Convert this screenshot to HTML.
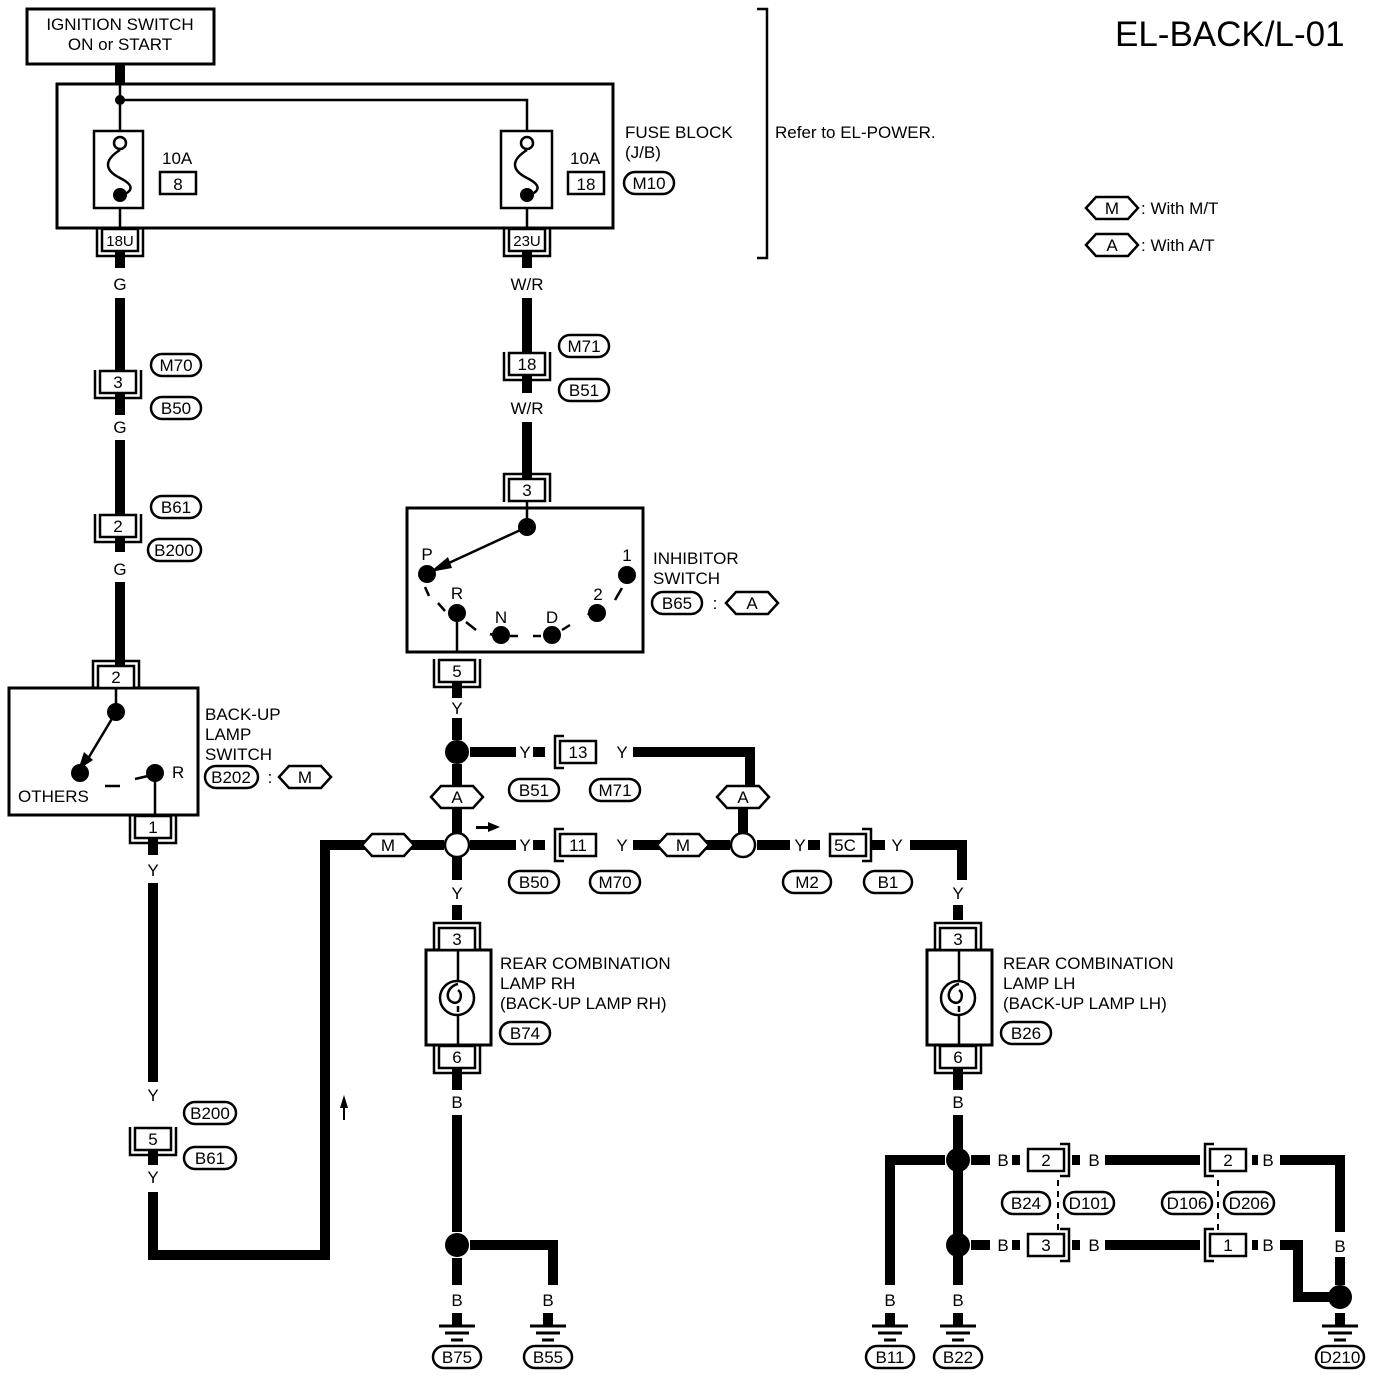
<!DOCTYPE html>
<html><head><meta charset="utf-8"><style>
html,body{margin:0;padding:0;background:#fff}
svg{display:block}
text{font-family:"Liberation Sans",sans-serif;font-size:17px;fill:#000}
.c{text-anchor:middle}
</style></head><body>
<svg width="1376" height="1378" viewBox="0 0 1376 1378" xmlns="http://www.w3.org/2000/svg">
<defs>
<g id="cu"><rect x="-18" y="-11" width="36" height="22" fill="#fff" stroke="#000" stroke-width="2.5"/><path d="M-23,-12 V16 H23 V-12" fill="none" stroke="#000" stroke-width="2.5"/></g>
<g id="cn"><rect x="-18" y="-11" width="36" height="22" fill="#fff" stroke="#000" stroke-width="2.5"/><path d="M-23,12 V-16 H23 V12" fill="none" stroke="#000" stroke-width="2.5"/></g>
<g id="ch"><rect x="-18" y="-11" width="36" height="22" fill="#fff" stroke="#000" stroke-width="2.5"/><path d="M-14,-16 H-23 V16 H-14" fill="none" stroke="#000" stroke-width="2.5"/></g>
<g id="chr"><rect x="-18" y="-11" width="36" height="22" fill="#fff" stroke="#000" stroke-width="2.5"/><path d="M14,-16 H23 V16 H14" fill="none" stroke="#000" stroke-width="2.5"/></g>
<g id="gnd"><path d="M0,-12 V0" stroke="#000" stroke-width="10"/><path d="M-18,1 H18 M-12,8 H12 M-6,15 H6" stroke="#000" stroke-width="3"/></g>
<g id="dia"><path d="M-26,0 L-16,-11 H16 L26,0 L16,11 H-16 Z" fill="#fff" stroke="#000" stroke-width="2.5"/></g>
</defs>
<g fill="none" stroke="#000">
<rect x="27" y="9" width="187" height="55" stroke-width="3"/>
<path d="M120,64 V84" stroke-width="10"/>
<rect x="57" y="84" width="556" height="144" stroke-width="3"/>
<path d="M120,84 V130 M120,100 H527 V130 M120,208 V228 M527,208 V228" stroke-width="2.5"/>
<rect x="94" y="131" width="49" height="77" stroke-width="2.5"/>
<rect x="501" y="131" width="51" height="77" stroke-width="2.5"/>
<path d="M120,150 C104,160 104,170 120,178 C136,186 132,192 120,196" stroke-width="2.5"/>
<path d="M527,150 C511,160 511,170 527,178 C543,186 539,192 527,196" stroke-width="2.5"/>
<circle cx="120" cy="143" r="6" fill="#fff" stroke-width="2.5"/>
<circle cx="527" cy="143" r="6" fill="#fff" stroke-width="2.5"/>
<rect x="160" y="172" width="36" height="22" stroke-width="2.5"/>
<rect x="568" y="172" width="36" height="22" stroke-width="2.5"/>
<path d="M757,9 H767 V258 H757" stroke-width="2.5"/>
<path d="M120,250 V268 M120,298 V375 M120,392 V415 M120,440 V518 M120,536 V552 M120,582 V670" stroke-width="10"/>
<path d="M527,250 V268 M527,298 V360 M527,376 V393 M527,422 V490" stroke-width="10"/>
<rect x="9" y="688" width="189" height="127" stroke-width="3"/>
<path d="M116,688 V712 M155,773 V815" stroke-width="2.5"/>
<path d="M116,712 L86,762" stroke-width="2.5"/>
<path d="M105,786 L120,786 M135,779 L148,776" stroke-width="2.5"/>
<rect x="407" y="508" width="236" height="144" stroke-width="3"/>
<path d="M527,500 V527 M457,613 V652" stroke-width="2.5"/>
<path d="M527,527 L438,568" stroke-width="2.5"/>
<path d="M425,587 L429,596 M438,603 L445,611 M466,622 L476,630 M490,634 L497,636 M510,636 L518,636 M533,636 L541,636 M562,630 L570,625 M588,615 L593,608 M615,600 L622,588" stroke-width="2.5"/>
<path d="M153,838 V855 M153,883 V1082 M153,1145 V1165 M153,1192 V1255 H325 V845 H368 M408,845 H444" stroke-width="10"/>
<path d="M457,682 V698 M457,718 V740 M457,764 V787 M457,808 V833 M457,857 V880 M457,905 V920" stroke-width="10"/>
<path d="M470,752 H516 M533,752 H545 M633,752 H750 V787 M743,808 V833" stroke-width="10"/>
<path d="M470,845 H516 M533,845 H545 M633,845 H660 M706,845 H730 M757,845 H790 M808,845 H820 M870,845 H885 M910,845 H962 V880 M958,905 V920" stroke-width="10"/>
<rect x="426" y="950" width="65" height="95" fill="#fff" stroke-width="3"/>
<rect x="927" y="950" width="65" height="95" fill="#fff" stroke-width="3"/>
<path d="M458,950 V1045 M959,950 V1045" stroke-width="2.5"/>
<circle cx="457" cy="998" r="17" stroke-width="2.5" fill="#fff"/>
<circle cx="958" cy="998" r="17" stroke-width="2.5" fill="#fff"/>
<path d="M458,984 C448,986 444,998 452,1002 C460,1006 464,994 458,990 M458,1006 V1012" stroke-width="2.5"/>
<path d="M959,984 C949,986 945,998 953,1002 C961,1006 965,994 959,990 M959,1006 V1012" stroke-width="2.5"/>
<path d="M457,1068 V1090 M457,1115 V1232 M457,1258 V1285 M470,1245 H553 V1285" stroke-width="10"/>
<path d="M958,1068 V1090 M958,1115 V1285 M945,1160 H890 V1285" stroke-width="10"/>
<path d="M971,1160 H990 M1012,1160 H1020 M1072,1160 H1080 M1105,1160 H1200 M1252,1160 H1258 M1280,1160 H1340 V1232 M1340,1257 V1285" stroke-width="10"/>
<path d="M971,1245 H990 M1012,1245 H1020 M1072,1245 H1080 M1105,1245 H1200 M1252,1245 H1258 M1280,1245 H1298 V1297 H1330" stroke-width="10"/>
<path d="M1058,1180 V1230 M1218,1180 V1230" stroke-width="2" stroke-dasharray="6,5"/>
</g>
<g fill="#000">
<circle cx="120" cy="100" r="5"/><circle cx="120" cy="195" r="7"/><circle cx="527" cy="195" r="7"/>
<circle cx="116" cy="712" r="9"/><circle cx="80" cy="773" r="9"/><circle cx="155" cy="773" r="9"/>
<path d="M78,770 L84,752 L93,760 Z"/>
<circle cx="527" cy="527" r="9"/><circle cx="427" cy="574" r="9"/><circle cx="457" cy="613" r="9"/><circle cx="501" cy="635" r="9"/><circle cx="552" cy="635" r="9"/><circle cx="597" cy="613" r="9"/><circle cx="627" cy="575" r="9"/>
<path d="M430,572 L448,557 L452,568 Z"/>
<circle cx="457" cy="752" r="12"/><circle cx="457" cy="1245" r="12"/><circle cx="958" cy="1160" r="12"/><circle cx="958" cy="1245" r="12"/><circle cx="1340" cy="1297" r="12"/>
<path d="M476,826 H488 V822 L500,827 L488,832 V829 H476 Z"/>
<path d="M343,1120 V1108 H340 L344,1095 L348,1108 H345 V1120 Z"/>
</g>
<g fill="#fff" stroke="#000" stroke-width="2.5">
<circle cx="457" cy="845" r="12"/><circle cx="743" cy="845" r="12"/>
</g>
<use href="#cu" x="120" y="240"/><use href="#cu" x="527" y="240"/>
<use href="#cu" x="118" y="382"/><use href="#cu" x="527" y="364"/>
<use href="#cu" x="118" y="526"/>
<use href="#cn" x="116" y="677"/><use href="#cn" x="527" y="490"/>
<use href="#cu" x="457" y="671"/><use href="#cu" x="153" y="827"/>
<use href="#cu" x="153" y="1139"/>
<use href="#ch" x="578" y="752"/><use href="#ch" x="578" y="845"/><use href="#chr" x="848" y="845"/>
<use href="#cn" x="457" y="939"/><use href="#cu" x="457" y="1057"/>
<use href="#cn" x="958" y="939"/><use href="#cu" x="958" y="1057"/>
<use href="#chr" x="1046" y="1160"/><use href="#chr" x="1046" y="1245"/>
<use href="#ch" x="1228" y="1160"/><use href="#ch" x="1228" y="1245"/>
<use href="#gnd" x="457" y="1325"/><use href="#gnd" x="548" y="1325"/><use href="#gnd" x="890" y="1325"/><use href="#gnd" x="958" y="1325"/><use href="#gnd" x="1340" y="1325"/>
<use href="#dia" x="1112" y="208"/><use href="#dia" x="1112" y="245"/><use href="#dia" x="305" y="777"/><use href="#dia" x="752" y="603"/>
<use href="#dia" x="457" y="797"/><use href="#dia" x="743" y="797"/><use href="#dia" x="388" y="845"/><use href="#dia" x="683" y="845"/>
<g fill="#fff" stroke="#000" stroke-width="2.5">
<rect x="624" y="172" width="50" height="22" rx="11"/>
<rect x="151" y="354" width="50" height="22" rx="11"/><rect x="151" y="397" width="50" height="22" rx="11"/>
<rect x="151" y="496" width="50" height="22" rx="11"/><rect x="148" y="539" width="53" height="22" rx="11"/>
<rect x="559" y="335" width="50" height="22" rx="11"/><rect x="559" y="379" width="50" height="22" rx="11"/>
<rect x="652" y="592" width="50" height="22" rx="11"/><rect x="205" y="766" width="53" height="22" rx="11"/>
<rect x="509" y="779" width="50" height="22" rx="11"/><rect x="590" y="779" width="50" height="22" rx="11"/>
<rect x="509" y="871" width="50" height="22" rx="11"/><rect x="590" y="871" width="50" height="22" rx="11"/>
<rect x="783" y="871" width="48" height="22" rx="11"/><rect x="864" y="871" width="48" height="22" rx="11"/>
<rect x="500" y="1022" width="50" height="22" rx="11"/><rect x="1001" y="1022" width="50" height="22" rx="11"/>
<rect x="184" y="1102" width="52" height="22" rx="11"/><rect x="184" y="1147" width="52" height="22" rx="11"/>
<rect x="1002" y="1192" width="48" height="22" rx="11"/><rect x="1064" y="1192" width="50" height="22" rx="11"/>
<rect x="1162" y="1192" width="50" height="22" rx="11"/><rect x="1224" y="1192" width="50" height="22" rx="11"/>
<rect x="433" y="1346" width="48" height="22" rx="11"/><rect x="524" y="1346" width="48" height="22" rx="11"/>
<rect x="866" y="1346" width="48" height="22" rx="11"/><rect x="934" y="1346" width="48" height="22" rx="11"/><rect x="1316" y="1346" width="48" height="22" rx="11"/>
</g>
<g>
<text x="120" y="30" class="c">IGNITION SWITCH</text><text x="120" y="50" class="c">ON or START</text>
<text x="1115" y="46" style="font-size:35px">EL-BACK/L-01</text>
<text x="625" y="138">FUSE BLOCK</text><text x="625" y="158">(J/B)</text>
<text x="775" y="138">Refer to EL-POWER.</text>
<text x="1141" y="214">: With M/T</text><text x="1141" y="251">: With A/T</text>
<text x="1112" y="214" class="c">M</text><text x="1112" y="251" class="c">A</text>
<text x="162" y="164">10A</text><text x="178" y="190" class="c">8</text>
<text x="570" y="164">10A</text><text x="586" y="190" class="c">18</text>
<text x="649" y="189" class="c">M10</text>
<text x="120" y="246" class="c" style="font-size:15px">18U</text><text x="527" y="246" class="c" style="font-size:15px">23U</text>
<text x="120" y="290" class="c">G</text><text x="527" y="290" class="c">W/R</text>
<text x="118" y="388" class="c">3</text><text x="176" y="371" class="c">M70</text><text x="176" y="414" class="c">B50</text>
<text x="120" y="433" class="c">G</text>
<text x="527" y="370" class="c">18</text><text x="584" y="352" class="c">M71</text><text x="584" y="396" class="c">B51</text>
<text x="527" y="414" class="c">W/R</text>
<text x="118" y="532" class="c">2</text><text x="176" y="513" class="c">B61</text><text x="174" y="556" class="c">B200</text>
<text x="120" y="575" class="c">G</text>
<text x="116" y="683" class="c">2</text>
<text x="205" y="720">BACK-UP</text><text x="205" y="740">LAMP</text><text x="205" y="760">SWITCH</text>
<text x="231" y="783" class="c">B202</text><text x="270" y="783" class="c">:</text><text x="305" y="783" class="c">M</text>
<text x="18" y="802">OTHERS</text><text x="172" y="778">R</text>
<text x="153" y="833" class="c">1</text><text x="153" y="876" class="c">Y</text>
<text x="527" y="496" class="c">3</text>
<text x="427" y="560" class="c">P</text><text x="457" y="599" class="c">R</text><text x="501" y="623" class="c">N</text><text x="552" y="623" class="c">D</text><text x="598" y="600" class="c">2</text><text x="627" y="561" class="c">1</text>
<text x="653" y="564">INHIBITOR</text><text x="653" y="584">SWITCH</text>
<text x="677" y="609" class="c">B65</text><text x="715" y="609" class="c">:</text><text x="752" y="609" class="c">A</text>
<text x="457" y="677" class="c">5</text><text x="457" y="714" class="c">Y</text>
<text x="525" y="758" class="c">Y</text><text x="578" y="758" class="c">13</text><text x="622" y="758" class="c">Y</text>
<text x="534" y="796" class="c">B51</text><text x="615" y="796" class="c">M71</text>
<text x="457" y="803" class="c">A</text><text x="743" y="803" class="c">A</text><text x="388" y="851" class="c">M</text><text x="683" y="851" class="c">M</text>
<text x="525" y="851" class="c">Y</text><text x="578" y="851" class="c">11</text><text x="622" y="851" class="c">Y</text>
<text x="800" y="851" class="c">Y</text><text x="845" y="851" class="c">5C</text><text x="897" y="851" class="c">Y</text>
<text x="534" y="888" class="c">B50</text><text x="615" y="888" class="c">M70</text><text x="807" y="888" class="c">M2</text><text x="888" y="888" class="c">B1</text>
<text x="457" y="899" class="c">Y</text><text x="958" y="899" class="c">Y</text>
<text x="457" y="945" class="c">3</text><text x="958" y="945" class="c">3</text>
<text x="457" y="1063" class="c">6</text><text x="958" y="1063" class="c">6</text>
<text x="500" y="969">REAR COMBINATION</text><text x="500" y="989">LAMP RH</text><text x="500" y="1009">(BACK-UP LAMP RH)</text>
<text x="1003" y="969">REAR COMBINATION</text><text x="1003" y="989">LAMP LH</text><text x="1003" y="1009">(BACK-UP LAMP LH)</text>
<text x="525" y="1039" class="c">B74</text><text x="1026" y="1039" class="c">B26</text>
<text x="153" y="1101" class="c">Y</text><text x="153" y="1145" class="c">5</text><text x="153" y="1183" class="c">Y</text>
<text x="210" y="1119" class="c">B200</text><text x="210" y="1164" class="c">B61</text>
<text x="457" y="1108" class="c">B</text><text x="958" y="1108" class="c">B</text>
<text x="457" y="1306" class="c">B</text><text x="548" y="1306" class="c">B</text><text x="890" y="1306" class="c">B</text><text x="958" y="1306" class="c">B</text><text x="1340" y="1252" class="c">B</text>
<text x="1003" y="1166" class="c">B</text><text x="1046" y="1166" class="c">2</text><text x="1094" y="1166" class="c">B</text><text x="1228" y="1166" class="c">2</text><text x="1268" y="1166" class="c">B</text>
<text x="1003" y="1251" class="c">B</text><text x="1046" y="1251" class="c">3</text><text x="1094" y="1251" class="c">B</text><text x="1228" y="1251" class="c">1</text><text x="1268" y="1251" class="c">B</text>
<text x="1026" y="1209" class="c">B24</text><text x="1089" y="1209" class="c">D101</text><text x="1187" y="1209" class="c">D106</text><text x="1249" y="1209" class="c">D206</text>
<text x="457" y="1363" class="c">B75</text><text x="548" y="1363" class="c">B55</text><text x="890" y="1363" class="c">B11</text><text x="958" y="1363" class="c">B22</text><text x="1340" y="1363" class="c">D210</text>
</g>
</svg>
</body></html>
